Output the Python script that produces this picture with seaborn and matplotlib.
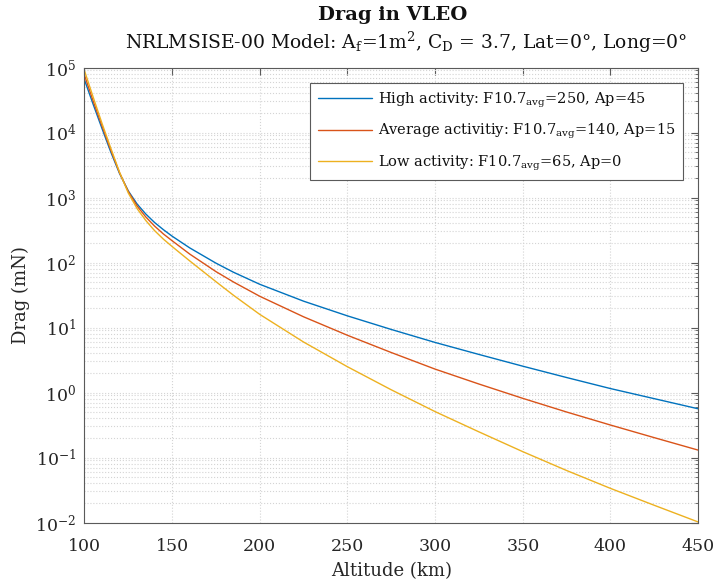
import numpy as np
import pandas as pd
import matplotlib
matplotlib.use("Agg")
import matplotlib.pyplot as plt
from matplotlib.ticker import LogLocator, FixedLocator, NullFormatter
import seaborn as sns

altitude = [100, 105, 110, 115, 120, 125, 130, 135, 140, 145, 150, 160, 175, 185, 200,
            225, 250, 275, 300, 325, 350, 375, 400, 425, 450]
high = [6.46e4, 2.69e4, 1.15e4, 5.01e3, 2.34e3, 1.26e3, 794, 556, 412, 320, 254, 168, 97.7,
        70.8, 46.2, 25.4, 15.1, 9.33, 5.89, 3.85, 2.54, 1.70, 1.15, 0.804, 0.562]
average = [7.59e4, 3.02e4, 1.26e4, 5.37e3, 2.40e3, 1.23e3, 741, 501, 363, 275, 216, 135, 72.4,
           50.1, 30.2, 14.6, 7.59, 4.12, 2.29, 1.35, 0.813, 0.501, 0.316, 0.202, 0.130]
low = [8.91e4, 3.47e4, 1.38e4, 5.75e3, 2.45e3, 1.17e3, 676, 442, 309, 229, 176, 106, 50.7,
       31.3, 15.9, 5.97, 2.49, 1.10, 0.508, 0.248, 0.123, 0.0631, 0.0335, 0.0184, 0.0102]

labels = [r"High activity: F10.7$_{\rm avg}$=250, Ap=45",
          r"Average activitiy: F10.7$_{\rm avg}$=140, Ap=15",
          r"Low activity: F10.7$_{\rm avg}$=65, Ap=0"]
colors = ["#0072BD", "#D95319", "#EDB120"]

df = pd.concat([
    pd.DataFrame({"Altitude": altitude, "Drag": vals, "Series": lab})
    for vals, lab in zip([high, average, low], labels)
])

sns.set_style("white")
plt.rcParams["font.family"] = ["DejaVu Serif"]
plt.rcParams["mathtext.fontset"] = "custom"
plt.rcParams["mathtext.rm"] = "DejaVu Serif"
plt.rcParams["mathtext.it"] = "DejaVu Serif:italic"
plt.rcParams["mathtext.bf"] = "DejaVu Serif:bold"

fig = plt.figure(figsize=(7.16, 5.84), dpi=100)
ax = fig.add_axes([0.118, 0.1053, 0.857, 0.7791])

sns.lineplot(data=df, x="Altitude", y="Drag", hue="Series", palette=colors,
             linewidth=1.0, ax=ax, legend=True, sort=True)
ax.set_yscale("log")
ax.set_xlim(100, 450)
ax.set_ylim(1e-2, 1e5)
ax.set_xticks([100, 150, 200, 250, 300, 350, 400, 450])
ax.yaxis.set_major_locator(FixedLocator([1e-2, 1e-1, 1e0, 1e1, 1e2, 1e3, 1e4, 1e5]))
ax.yaxis.set_minor_locator(LogLocator(base=10, subs=np.arange(2, 10), numticks=20))
ax.yaxis.set_minor_formatter(NullFormatter())

ax.grid(True, which="major", color="#d4d4d4", linestyle=":", linewidth=0.8)
ax.grid(True, which="minor", axis="y", color="#d4d4d4", linestyle=":", linewidth=0.8)
ax.set_axisbelow(True)

for s in ax.spines.values():
    s.set_color("#5a5a5a")
    s.set_linewidth(0.8)
ax.tick_params(axis="both", which="both", direction="in", top=True, right=True,
               colors="#5a5a5a", labelcolor="#262626", labelsize=12.5)
ax.tick_params(which="major", length=5)
ax.tick_params(which="minor", length=2.5)
ax.tick_params(axis="x", which="major", pad=11)
ax.tick_params(axis="y", which="major", pad=6)

ax.set_xlabel("Altitude (km)", fontsize=13, color="#262626", labelpad=5)
ax.set_ylabel("Drag (mN)", fontsize=13, color="#262626", labelpad=4)

fig.text(0.548, 0.974, "Drag in VLEO", ha="center", va="center", fontsize=14,
         fontweight="bold", color="#111111")
fig.text(0.568, 0.927,
         r"NRLMSISE-00 Model: A$_{\rm f}$=1m$^{\rm 2}$, C$_{\rm D}$ = 3.7, Lat=0°, Long=0°",
         ha="center", va="center", fontsize=13.5, color="#111111")

leg = ax.legend(loc="upper right", bbox_to_anchor=(0.9755, 0.966), fontsize=10.5,
                frameon=True, fancybox=False, edgecolor="#5a5a5a", framealpha=1,
                handlelength=3.7, handletextpad=0.45, borderaxespad=0.0,
                borderpad=0.5, labelspacing=0.85, title=None)
leg.get_frame().set_linewidth(0.8)
for t in leg.get_texts():
    t.set_color("#111111")

fig.savefig("out.png", dpi=100)
